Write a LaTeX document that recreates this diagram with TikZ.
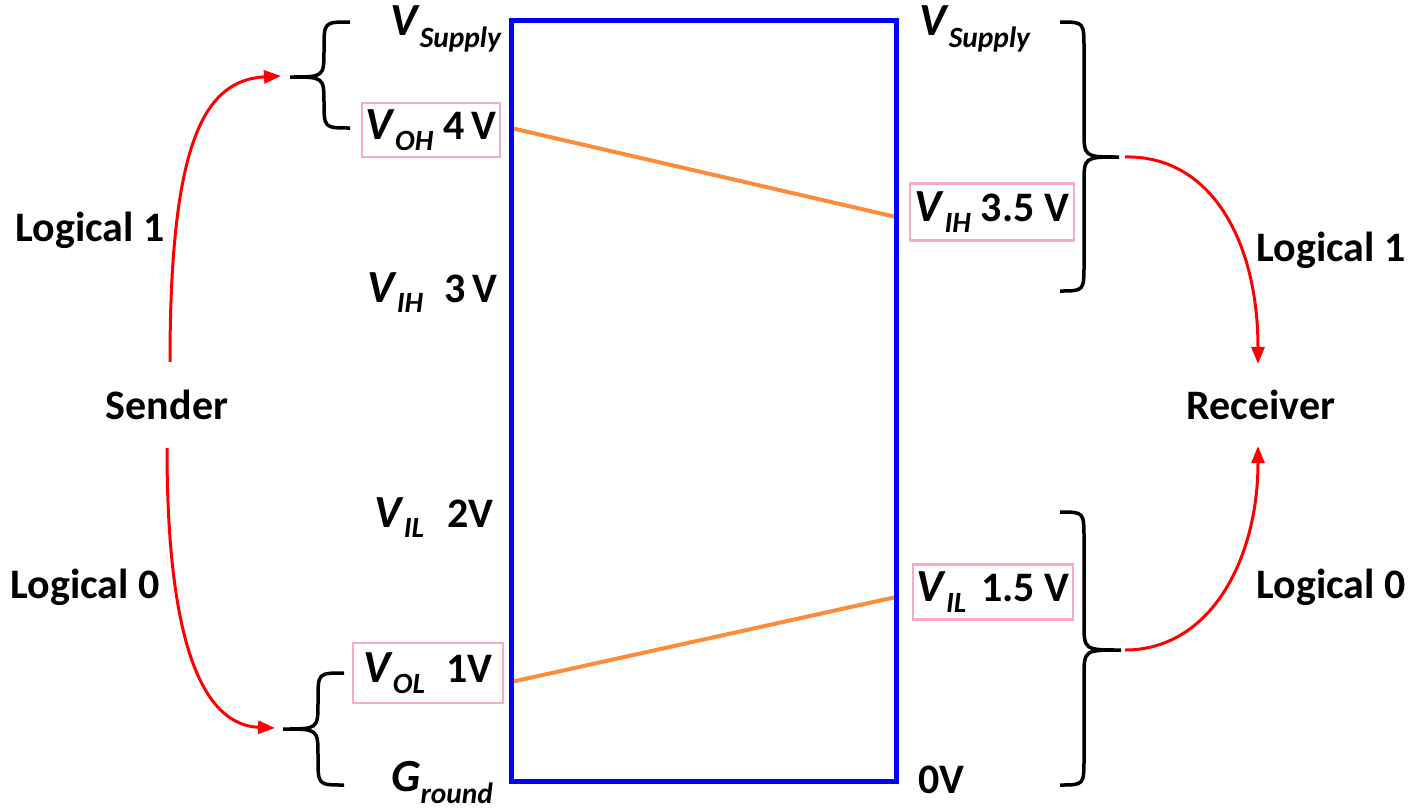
\documentclass[tikz,border=0pt]{standalone}
\usepackage{fontspec}
\setmainfont{Carlito}
\usetikzlibrary{arrows.meta}
\definecolor{barblue}{RGB}{0,0,255}
\definecolor{levelorange}{RGB}{250,140,60}
\definecolor{boxpink}{RGB}{245,172,200}
\definecolor{arrred}{RGB}{255,0,0}

% voltage symbol with italic subscript
\newcommand{\volt}[2]{{\fontsize{46}{50}\selectfont\textit{#1}}\textsubscript{\textit{#2}}}
% curly brace: tip x, bend x, point x, top y, point y, bottom y
\newcommand{\levelbrace}[6]{%
  \draw[curlyline] (#1,#4) .. controls (#2,#4) .. (#2,#4+27) -- (#2,#5-27)
    .. controls (#2,#5) .. (#3,#5) .. controls (#2,#5) .. (#2,#5+27)
    -- (#2,#6-27) .. controls (#2,#6) .. (#1,#6);}

\begin{document}
\begin{tikzpicture}[x=1pt, y=-1pt,
    txt/.style={font=\fontsize{42}{48}\selectfont\bfseries, inner sep=0pt},
    lvl/.style={txt, anchor=base west},
    lvlbox/.style 2 args={txt, draw=boxpink, line width=2.5pt,
                          minimum width=#1, minimum height=#2},
    curlyline/.style={line width=3.5pt, black},
    arr/.style={-{Triangle[length=17pt,width=13pt]}, arrred, line width=3pt},
    level/.style={levelorange, line width=4pt}
]
    \useasboundingbox[fill=white] (0,0) rectangle (1424,809);

    % level lines across the channel
    \coordinate (ohL) at (511,128);
    \coordinate (ihR) at (896,217);
    \coordinate (olL) at (511,682);
    \coordinate (ilR) at (896,597);
    \draw[level] (ohL) -- (ihR);
    \draw[level] (olL) -- (ilR);

    % channel
    \node[draw=barblue, line width=5pt, minimum width=385pt, minimum height=761pt,
          inner sep=0pt] (bar) at (703.5,400.5) {};

    % sender side levels
    \node[lvl] (lsup) at (390,35) {\volt{V}{Supply}};
    \node[lvlbox={138pt}{54pt}] (voh) at (431,130) {\volt{V}{OH} 4\,V};
    \node[lvl] (lih) at (367,302) {\volt{V}{IH}\hspace{0.5em}3\,V};
    \node[lvl] (lil) at (374,527) {\volt{V}{IL}\hspace{0.55em}2V};
    \node[lvlbox={150pt}{60pt}] (vol) at (428,673) {\volt{V}{OL}\hspace{0.5em}1V};
    \node[lvl] (lgnd) at (391,791) {\volt{G}{round}};

    % receiver side levels
    \node[lvl] (rsup) at (919,35) {\volt{V}{Supply}};
    \node[lvlbox={164pt}{57pt}] (vih) at (992,212) {\volt{V}{IH} 3.5 V};
    \node[lvlbox={160pt}{55pt}] (vil) at (993,592) {\volt{V}{IL}\hspace{0.35em}1.5 V};
    \node[lvl] (rgnd) at (918,793) {0V};

    % braces
    \levelbrace{350}{324}{290}{22}{77}{128}
    \levelbrace{344}{318}{283}{673}{729}{785}
    \levelbrace{1060}{1084}{1119}{22}{157}{291}
    \levelbrace{1060}{1084}{1121}{512}{650}{785}
    \coordinate (sTop) at (281,76);
    \coordinate (sBot) at (275,728);
    \coordinate (rTop) at (1125,157);
    \coordinate (rBot) at (1125,650);

    % sender and receiver
    \node[txt, inner ysep=28pt] (sender) at (167,405) {Sender};
    \node[txt, inner ysep=26pt] (receiver) at (1261,405) {Receiver};
    \node[txt] (s1) at (90,230) {Logical 1};
    \node[txt] (s0) at (85,587) {Logical 0};
    \node[txt] (r1) at (1331,250) {Logical 1};
    \node[txt] (r0) at (1331,587) {Logical 0};

    \draw[arr] ([xshift=3pt]sender.north) .. controls (170,140) and (205,80) .. (sTop);
    \draw[arr] (sender.south) .. controls (167,650) and (205,725) .. (sBot);
    \draw[arr] (rTop) .. controls (1210,155) and (1258,240) .. ([xshift=-3pt]receiver.north);
    \draw[arr] (rBot) .. controls (1210,650) and (1258,560) .. ([xshift=-3pt]receiver.south);
\end{tikzpicture}
\end{document}
